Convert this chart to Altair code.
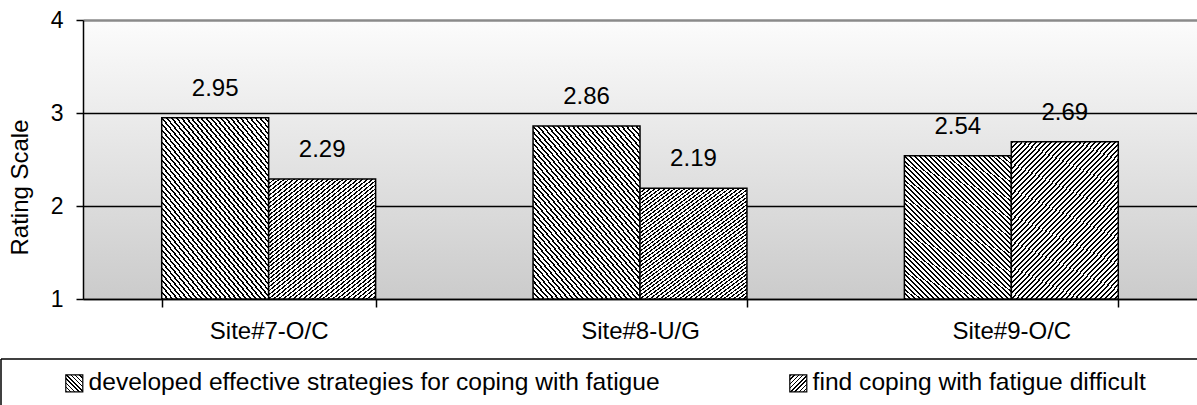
import altair as alt
import pandas as pd

sites = ["Site#7-O/C", "Site#8-U/G", "Site#9-O/C"]
series = [
    "developed effective strategies for coping with fatigue",
    "find coping with fatigue difficult",
]
developed = [2.95, 2.86, 2.54]
difficult = [2.29, 2.19, 2.69]
y_ticks = [1, 2, 3, 4]

rows = []
for i, s in enumerate(sites):
    rows.append({"site": s, "series": series[0], "value": developed[i]})
    rows.append({"site": s, "series": series[1], "value": difficult[i]})
df = pd.DataFrame(rows)

FONT = "Liberation Sans"


def stripes_expr(x1, y1, x2, y2, n, duty):
    stops = []
    for i in range(n):
        a = i / n
        b = (i + duty) / n
        c = (i + 1) / n
        stops += [
            "{offset:%.5f,color:'#000000'}" % a,
            "{offset:%.5f,color:'#000000'}" % b,
            "{offset:%.5f,color:'#ffffff'}" % b,
            "{offset:%.5f,color:'#ffffff'}" % c,
        ]
    return "{gradient:'linear',x1:%s,y1:%s,x2:%s,y2:%s,stops:[%s]}" % (
        x1, y1, x2, y2, ",".join(stops))


# bar hatches ("\\\\" for first series, "////" for second)
hatch_back = stripes_expr(0, 1, 0.816, -0.133, 52, 0.4)
hatch_fwd = stripes_expr(0, 0, 0.816, 1.133, 52, 0.4)
# legend swatch hatches (square swatches)
sw_back = stripes_expr(0, 1, 1, 0, 8, 0.35)
sw_fwd = stripes_expr(0, 0, 1, 1, 8, 0.35)
bg_expr = ("{gradient:'linear',x1:0,y1:0,x2:0,y2:1,stops:["
           "{offset:0,color:'#fcfcfc'},{offset:1,color:'#cbcbcb'}]}")

x_enc = alt.X(
    "site:N", sort=sites, title=None,
    scale=alt.Scale(paddingInner=0.424, paddingOuter=0.212),
    axis=alt.Axis(
        labelAngle=0, labelFontSize=24, labelFont=FONT, labelColor="black",
        labelPadding=12, domainColor="black", domainWidth=1.5,
        tickColor="black", tickWidth=1.5, tickSize=8, tickBand="extent",
        grid=False,
    ),
)
y_enc = alt.Y(
    "value:Q",
    scale=alt.Scale(domain=[1, 4], nice=False, zero=False),
    axis=alt.Axis(
        values=y_ticks, format=".0f", title="Rating Scale", titleFontSize=24,
        titleFont=FONT, titleFontWeight="normal", titleColor="black",
        titleX=-63, titleY=167, titleAlign="center", titleBaseline="middle",
        titleAngle=270,
        labelFontSize=23, labelFont=FONT, labelColor="black", labelPadding=13,
        domainColor="black", domainWidth=1.5, tickColor="black", tickWidth=1.5,
        tickSize=7, grid=True,
        gridColor={"condition": {"test": "datum.value === 4", "value": "#8a8a8a"}, "value": "black"},
        gridWidth={"condition": {"test": "datum.value === 4", "value": 2.5}, "value": 1.5},
    ),
)

base = alt.Chart(df).encode(
    x=x_enc,
    xOffset=alt.XOffset("series:N", sort=series),
    y=y_enc,
)

bars = base.mark_bar(stroke="black", strokeWidth=1.5).encode(
    y2=alt.datum(1),
    fill=alt.Fill(
        "series:N", sort=series, legend=None,
        scale=alt.Scale(domain=series, range=[{"expr": hatch_back}, {"expr": hatch_fwd}]),
    ),
)

legend_layer = base.mark_bar(strokeWidth=0).encode(
    y=alt.datum(1),
    y2=alt.datum(1),
    fill=alt.Fill(
        "series:N", sort=series, title=None,
        scale=alt.Scale(domain=series, range=[{"expr": sw_back}, {"expr": sw_fwd}]),
        legend=alt.Legend(
            orient="none", legendX=-82, legendY=339, direction="horizontal",
            columns=2, columnPadding=77, padding=12,
            symbolType="square", symbolSize=289, symbolStrokeColor="black",
            symbolStrokeWidth=1.2, symbolOffset=49, labelOffset=2,
            labelFontSize=24.6, labelFont=FONT, labelColor="black",
            labelLimit=1000,
        ),
    ),
)

labels = base.mark_text(dy=-29, fontSize=24, font=FONT, color="black").encode(
    text=alt.Text("value:Q", format=".2f"),
)

# legend frame (runs off the right and bottom edges, as in the original)
frame_src = alt.Chart(pd.DataFrame({"k": [0]}))
frame_top = frame_src.mark_rule(color="black", strokeWidth=1.5).encode(
    x=alt.value(-82), x2=alt.value(1130), y=alt.value(339),
)
frame_left = frame_src.mark_rule(color="black", strokeWidth=1.5).encode(
    x=alt.value(-82), y=alt.value(339), y2=alt.value(400),
)

chart = (
    alt.layer(bars, legend_layer, labels, frame_top, frame_left)
    .resolve_scale(fill="independent")
    .properties(
        width=1114, height=279,
        autosize=alt.AutoSizeParams(type="none"),
        padding={"left": 83, "top": 20, "right": 0, "bottom": 106},
        background="white",
    )
    .configure_view(fill={"expr": bg_expr}, strokeWidth=0)
)

chart.save("out.html", embed_options={"renderer": "svg", "actions": False})
